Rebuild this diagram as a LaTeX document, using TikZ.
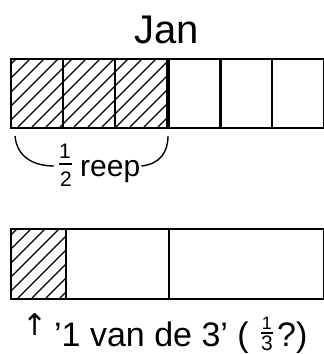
\documentclass[tikz,border=0pt]{standalone}
\usepackage{fontspec}
\setmainfont{Liberation Sans}
\newfontfamily\arrowfont{DejaVu Sans}
\tikzset{
  cell/.style={draw,line width=1.6pt,anchor=north west,minimum height=69pt,inner sep=0pt},
  hatch/.style={line width=1.1pt},
  lbl/.style={inner sep=0pt,anchor=base west},
  digit/.style={inner sep=0pt,font=\fontsize{21}{21}\selectfont},
  bar/.style={line width=1.3pt}
}
\begin{document}
\begin{tikzpicture}[x=1pt,y=-1pt]
\useasboundingbox (0,0) rectangle (324,354);
% top strip: Jan
\node[inner sep=0pt,anchor=base] (jan) at (167,43) {\fontsize{40}{40}\selectfont Jan};
\begin{scope}
  \clip (10,58) rectangle (168,127);
  \foreach \i in {-80,-66,...,170}
    \draw[hatch] (\i,127)--(\i+69,58);
\end{scope}
\foreach \x/\n in {10/a,62/b,114/c,168/d,219/e,271/f}
  \node[cell,minimum width=52pt] (t\n) at (\x,58) {};
% brace with 1/2 reep
\node[digit] (hnum) at (65,151) {1};
\node[digit] (hden) at (66,179) {2};
\draw[bar] (59,164) -- (72,164);
\node[lbl,font=\fontsize{30}{30}\selectfont] (reep) at (80,176) {reep};
\coordinate (bl) at (15,136);
\coordinate (br) at (168,136);
\draw[line width=1.4pt] (bl) .. controls (17,158) and (35,166) .. (54,166);
\draw[line width=1.4pt] (reep.east |- 0,166) ++(1,0) .. controls (160,164) and (168,152) .. (br);
% bottom strip
\begin{scope}
  \clip (10,228) rectangle (65,298);
  \foreach \i in {-80,-66,...,70}
    \draw[hatch] (\i,298)--(\i+70,228);
\end{scope}
\node[cell,minimum height=70pt,minimum width=55pt] (ba) at (10,228) {};
\node[cell,minimum height=70pt,minimum width=103pt] (bb) at (65,228) {};
\node[cell,minimum height=70pt,minimum width=155pt] (bc) at (168,228) {};
% 1 van de 3 (1/3?)
\node[inner sep=0pt,font=\arrowfont\fontsize{30}{30}\selectfont] (arrow) at (35,325) {↑};
\node[lbl,font=\fontsize{34}{34}\selectfont] (note) at (54,346) {'1 van de 3' (};
\node[digit,font=\fontsize{18}{18}\selectfont] (tnum) at (267,323) {1};
\node[digit] (tden) at (267,343) {3};
\draw[bar] (261,333) -- (273,333);
\node[lbl,font=\fontsize{34}{34}\selectfont] (qm) at (277,346) {?)};
\end{tikzpicture}
\end{document}
